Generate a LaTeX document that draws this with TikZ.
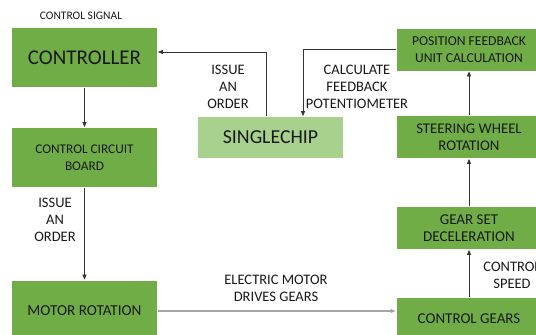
\documentclass[tikz,border=0pt]{standalone}
\usepackage{fontspec}
\setmainfont{Carlito}
\usetikzlibrary{arrows.meta}
\definecolor{dgreen}{HTML}{70AD47}
\definecolor{lgreen}{HTML}{A9D18E}
\definecolor{lgray}{HTML}{A6A6A6}
\begin{document}
\begin{tikzpicture}[x=1pt,y={(0,-1pt)},
  box/.style={fill=dgreen,draw=white,line width=0.8pt,minimum width=146pt,inner sep=0pt,align=center,text=black!90},
  lbox/.style={box,fill=lgreen},
  arr/.style={-{Triangle[length=5pt,width=4pt]},line width=0.7pt,draw=black!80},
  garr/.style={-{Triangle[length=5pt,width=4pt]},line width=1.6pt,draw=lgray},
  lbl/.style={align=center,font=\fontsize{14.5}{17}\selectfont,text=black!90,inner sep=0pt}]
\useasboundingbox (0,0) rectangle (536,335);
\node[font=\fontsize{11.5}{13}\selectfont,text=black!90] (sig) at (81,16) {CONTROL SIGNAL};
\node[box,minimum height=60pt,font=\fontsize{21}{24}\selectfont] (ctrl) at (84.5,57.5) {CONTROLLER};
\node[box,minimum height=60pt,font=\fontsize{13.3}{16.5}\selectfont] (ccb) at (84.5,157.5) {CONTROL CIRCUIT\\BOARD};
\node[box,minimum height=62pt,font=\fontsize{15.2}{18}\selectfont] (motor) at (84.5,311) {MOTOR ROTATION};
\node[lbox,minimum height=42pt,font=\fontsize{19.8}{22}\selectfont] (single) at (270.5,137.5) {SINGLECHIP};
\node[box,minimum height=43pt,font=\fontsize{13.6}{16.5}\selectfont] (pos) at (469,49.5) {POSITION FEEDBACK\\UNIT CALCULATION};
\node[box,minimum height=43pt,font=\fontsize{14.8}{17.5}\selectfont] (steer) at (469,137) {STEERING WHEEL\\ROTATION};
\node[box,minimum height=43pt,font=\fontsize{15}{17.5}\selectfont] (gearset) at (469,228) {GEAR SET\\DECELERATION};
\node[box,minimum height=43pt,font=\fontsize{15}{17}\selectfont] (cgears) at (469,318.5) {CONTROL GEARS};
% labels
\node[lbl] (l1) at (228,87) {ISSUE\\AN\\ORDER};
\node[lbl] (l2) at (357,87) {CALCULATE\\FEEDBACK\\POTENTIOMETER};
\node[lbl] (l3) at (55,220) {ISSUE\\AN\\ORDER};
\node[lbl] (l4) at (276,288.5) {ELECTRIC MOTOR\\DRIVES GEARS};
\node[lbl] (l5) at (512,275.5) {CONTROL\\SPEED};
% connectors
\draw[arr] ([xshift=-4.5pt]single.north) |- ([yshift=5.5pt]ctrl.east);
\draw[arr] (pos.west) -| ([xshift=32.5pt]single.north);
\draw[arr] (steer.north) -- (pos.south);
\draw[arr] (ctrl.south) -- (ccb.north);
\draw[arr] (ccb.south) -- (motor.north);
\draw[garr] (motor.east) -- (motor.east -| cgears.west);
\draw[arr] (cgears.north) -- (gearset.south);
\draw[arr] (gearset.north) -- (steer.south);
\end{tikzpicture}
\end{document}
